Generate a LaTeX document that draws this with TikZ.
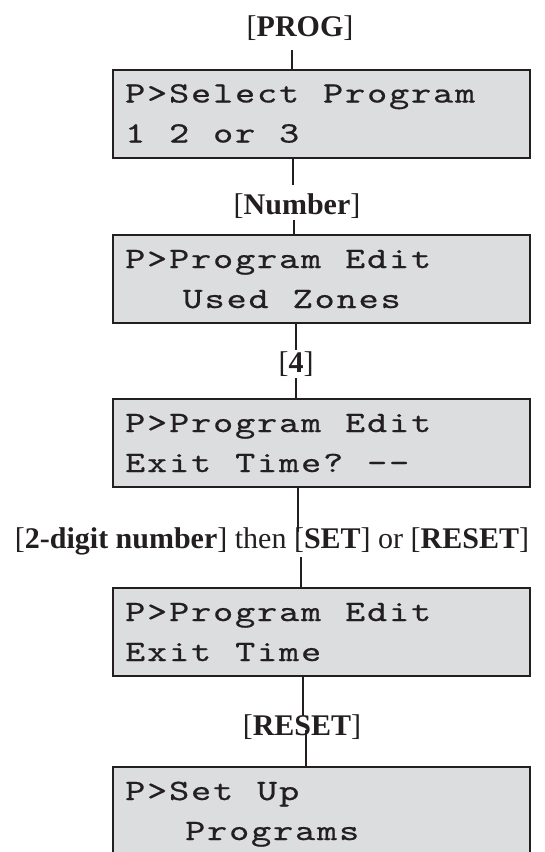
\documentclass[tikz,border=0pt]{standalone}
\usepackage{fontspec}
\setmainfont{Liberation Serif}
\newfontfamily\lcdfont{lmmono10-regular.otf}[FakeStretch=1.3,FakeBold=0.6]
\definecolor{ink}{HTML}{231F20}
\definecolor{lcdbg}{RGB}{220,221,223}
\newlength\lcdcell
\setlength\lcdcell{22pt}
\def\lcd#1{\lcdA#1\relax}
\def\lcdA#1{\ifx#1\relax\else\ifx#1|\hspace*{\lcdcell}\else\makebox[\lcdcell][c]{#1}\fi\expandafter\lcdA\fi}
\newcommand\lcdtwo[2]{\vtop{\baselineskip=40pt\lineskip=0pt\lineskiplimit=-100pt\hbox{#1}\hbox{#2}}}
\begin{document}
\begin{tikzpicture}[x=1pt,y=-1pt,
  lcdbox/.style={draw=ink, line width=2.4pt, fill=lcdbg, minimum width=417pt,
    minimum height=88pt, inner sep=0pt, outer sep=0pt, anchor=north west},
  lcdtext/.style={inner sep=0pt, anchor=base west, text=ink,
    font=\lcdfont\fontsize{29.5}{30}\selectfont},
  keylabel/.style={inner sep=0pt, text=ink, font=\fontsize{30}{32}\selectfont, anchor=base},
  conn/.style={draw=ink, line width=2.4pt}]
\useasboundingbox (0,0) rectangle (545,852);

% LCD boxes
\node[lcdbox] (b1) at (113,70) {};
\node[lcdbox] (b2) at (113,235) {};
\node[lcdbox] (b3) at (113,399) {};
\node[lcdbox] (b4) at (113,588) {};
\node[lcdbox, minimum height=100pt] (b5) at (113,767) {};

% LCD texts
\node[lcdtext] (t1) at ([shift={(11,32.5)}]b1.north west) {\lcdtwo{\lcd{P>Select|Program}}{\lcd{1|2|or|3}}};
\node[lcdtext] (t2) at ([shift={(11,33)}]b2.north west) {\lcdtwo{\lcd{P>Program|Edit}}{\hspace*{57.5pt}\lcd{Used|Zones}}};
\node[lcdtext] (t3) at ([shift={(11,33)}]b3.north west) {\lcdtwo{\lcd{P>Program|Edit}}{\lcd{Exit|Time?|--}}};
\node[lcdtext] (t4) at ([shift={(11,33)}]b4.north west) {\lcdtwo{\lcd{P>Program|Edit}}{\lcd{Exit|Time}}};
\node[lcdtext] (t5) at ([shift={(11,33)}]b5.north west) {\lcdtwo{\lcd{P>Set|Up}}{\hspace*{60pt}\lcd{Programs}}};

% key labels
\node[keylabel] (kProg) at (300,36) {[\textbf{PROG}]};
\node[keylabel] (kNum) at (297,214) {[\textbf{Number}]};
\node[keylabel] (k4) at (296,372) {[\textbf{4}]};
\node[keylabel] (kSet) at (272,548) {[\textbf{2-digit number}] then [\textbf{SET}] or [\textbf{RESET}]};
\node[keylabel] (kReset) at (302,735) {[\textbf{RESET}]};

% connector anchor points
\coordinate (p0) at (292,50);
\coordinate (p1a) at (293,185);
\coordinate (p1b) at (294,220);
\coordinate (p2a) at (296,350);
\coordinate (p2b) at (296,378);
\coordinate (p3a) at (298,532);
\coordinate (p3b) at (301,557);
\coordinate (p4a) at (303,716);
\coordinate (p4b) at (306,730);

% connectors
\draw[conn] (p0) -- (p0 |- b1.north);
\draw[conn] (p1a |- b1.south) -- (p1a);
\draw[conn] (p1b) -- (p1b |- b2.north);
\draw[conn] (p2a |- b2.south) -- (p2a);
\draw[conn] (p2b) -- (p2b |- b3.north);
\draw[conn] (p3a |- b3.south) -- (p3a);
\draw[conn] (p3b) -- (p3b |- b4.north);
\draw[conn] (p4a |- b4.south) -- (p4a);
\draw[conn] (p4b) -- (p4b |- b5.north);
\end{tikzpicture}
\end{document}
